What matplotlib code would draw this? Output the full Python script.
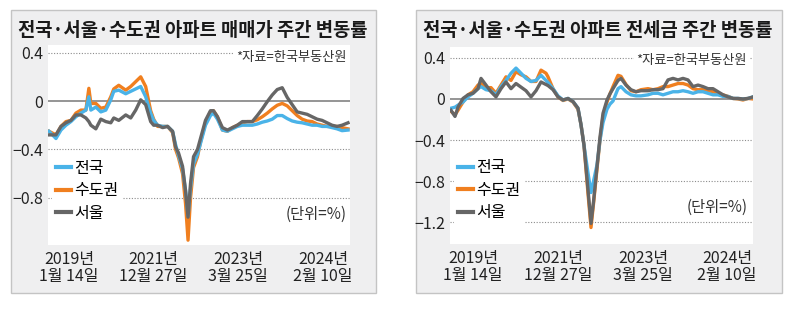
import matplotlib
matplotlib.use('Agg')
import matplotlib.pyplot as plt
from matplotlib.patches import Rectangle
from matplotlib.lines import Line2D

plt.rcParams['font.family'] = ['Liberation Sans Narrow', 'Noto Sans CJK KR', 'DejaVu Sans']

# ---- data: weekly change rates (%) ----
# 매매가 (sale price) panel
sale_x = [0, 7, 12, 17, 22, 27, 32, 37, 40, 42, 47, 52, 57, 62, 65, 70, 77, 82, 87, 92,
          97, 102, 105, 109, 114, 119, 124, 127, 130, 134, 137, 139.5, 142, 145, 149, 152, 157, 162, 165, 169,
          174, 179, 184, 189, 194, 199, 204, 209, 214, 219, 224, 229, 234, 239, 244, 249, 254, 259, 264, 269,
          274, 279, 284, 289, 294, 300]
sale_nation = [-0.25, -0.31, -0.24, -0.20, -0.17, -0.13, -0.10, -0.075, 0.035, -0.075,
               -0.05, -0.09, -0.075, 0.01, 0.08, 0.09, 0.06, 0.08, 0.10, 0.12,
               0.035, -0.10, -0.16, -0.20, -0.21, -0.21, -0.25, -0.36, -0.45, -0.56,
               -0.74, -0.95, -0.72, -0.52, -0.44, -0.35, -0.20, -0.12, -0.10, -0.15,
               -0.24, -0.25, -0.23, -0.21, -0.20, -0.20, -0.20, -0.19, -0.175, -0.165,
               -0.15, -0.12, -0.12, -0.145, -0.165, -0.175, -0.18, -0.19, -0.20, -0.20,
               -0.21, -0.21, -0.22, -0.23, -0.245, -0.24]
sale_metro = [-0.25, -0.28, -0.21, -0.17, -0.16, -0.10, -0.075, -0.075, 0.105, -0.02,
              -0.02, -0.06, -0.05, 0.035, 0.10, 0.13, 0.09, 0.12, 0.16, 0.20,
              0.12, -0.08, -0.15, -0.21, -0.21, -0.21, -0.26, -0.40, -0.47, -0.60,
              -0.85, -1.15, -0.80, -0.55, -0.46, -0.34, -0.18, -0.09, -0.08, -0.13,
              -0.24, -0.25, -0.22, -0.20, -0.18, -0.17, -0.17, -0.155, -0.13, -0.10,
              -0.065, -0.035, -0.02, -0.04, -0.08, -0.12, -0.15, -0.165, -0.17, -0.19,
              -0.20, -0.21, -0.21, -0.21, -0.22, -0.23]
sale_seoul = [-0.28, -0.28, -0.21, -0.18, -0.16, -0.115, -0.115, -0.14, -0.17, -0.20,
              -0.23, -0.15, -0.17, -0.18, -0.14, -0.16, -0.115, -0.14, -0.075, 0.01,
              -0.03, -0.17, -0.20, -0.20, -0.22, -0.21, -0.25, -0.38, -0.43, -0.54,
              -0.74, -0.96, -0.68, -0.46, -0.40, -0.31, -0.16, -0.08, -0.08, -0.13,
              -0.22, -0.24, -0.22, -0.20, -0.17, -0.17, -0.17, -0.12, -0.065, -0.005,
              0.05, 0.095, 0.11, 0.03, -0.03, -0.09, -0.10, -0.11, -0.13, -0.15,
              -0.16, -0.18, -0.20, -0.21, -0.20, -0.18]

# 전세금 (jeonse) panel
rent_x = [0, 4, 7, 12, 17, 22, 27, 30, 35, 40, 45, 50, 55, 60, 65, 70, 75, 80, 85, 90,
          95, 97, 102, 107, 112, 117, 122, 127, 130, 133, 137, 140, 142.5, 146, 149, 152, 156, 159, 162, 167,
          170, 175, 180, 185, 190, 197, 202, 207, 212, 217, 222, 227, 232, 237, 242, 247, 252, 257, 262, 267,
          272, 277, 282, 287, 292, 297, 302]
rent_nation = [-0.09, -0.08, -0.06, -0.03, 0.02, 0.055, 0.10, 0.12, 0.09, 0.08,
               0.04, 0.12, 0.18, 0.25, 0.30, 0.25, 0.20, 0.17, 0.18, 0.23,
               0.18, 0.16, 0.10, 0.03, -0.01, 0.005, -0.025, -0.09, -0.25, -0.45,
               -0.72, -0.91, -0.80, -0.64, -0.40, -0.23, -0.10, -0.05, -0.02, 0.10,
               0.12, 0.07, 0.04, 0.03, 0.03, 0.04, 0.055, 0.055, 0.04, 0.055,
               0.07, 0.07, 0.08, 0.07, 0.055, 0.07, 0.07, 0.055, 0.04, 0.04,
               0.025, 0.025, 0.005, 0.005, 0.0, 0.005, 0.02]
rent_metro = [-0.12, -0.155, -0.11, -0.03, 0.04, 0.07, 0.135, 0.15, 0.11, 0.11,
              0.055, 0.135, 0.215, 0.18, 0.265, 0.235, 0.215, 0.17, 0.17, 0.28,
              0.25, 0.215, 0.10, 0.02, -0.015, 0.0, -0.03, -0.10, -0.25, -0.45,
              -0.92, -1.25, -1.02, -0.68, -0.40, -0.17, -0.03, 0.05, 0.12, 0.23,
              0.22, 0.14, 0.08, 0.07, 0.09, 0.10, 0.09, 0.10, 0.12, 0.12,
              0.135, 0.15, 0.15, 0.135, 0.10, 0.09, 0.09, 0.08, 0.07, 0.055,
              0.04, 0.025, 0.005, 0.0, -0.01, 0.005, 0.0]
rent_seoul = [-0.11, -0.17, -0.08, 0.005, 0.04, 0.055, 0.10, 0.20, 0.135, 0.07,
              0.02, 0.10, 0.165, 0.10, 0.15, 0.115, 0.08, 0.02, 0.08, 0.165,
              0.14, 0.13, 0.09, 0.02, -0.01, 0.005, -0.025, -0.09, -0.25, -0.45,
              -0.88, -1.21, -1.00, -0.66, -0.37, -0.14, -0.01, 0.05, 0.10, 0.18,
              0.20, 0.135, 0.09, 0.07, 0.08, 0.08, 0.09, 0.09, 0.10, 0.185,
              0.20, 0.185, 0.20, 0.185, 0.12, 0.135, 0.12, 0.10, 0.10, 0.07,
              0.04, 0.02, 0.005, 0.005, 0.0, 0.005, 0.02]

sale_yticks = [0.4, 0.0, -0.4, -0.8]
rent_yticks = [0.4, 0.0, -0.4, -0.8, -1.2]
date_labels = ['2019년\n1월 14일', '2021년\n12월 27일', '2023년\n3월 25일', '2024년\n2월 10일']
names = ['전국', '수도권', '서울']
colors = ['#4ab3e8', '#f07f1f', '#666666']

W, H = 791, 324
fig = plt.figure(figsize=(W / 100, H / 100), dpi=100)


def fx(px):
    return px / W


def fy(py):
    return 1 - py / H


# grey framed boxes behind each panel
for x0, x1 in [(11, 376), (416, 782)]:
    fig.patches.append(Rectangle((fx(x0), fy(293)), fx(x1) - fx(x0), fy(10) - fy(293),
                                 transform=fig.transFigure, facecolor='#efeff0',
                                 edgecolor='#c4c4c4', lw=1, zorder=-10))


def tick_text(t):
    if abs(t) < 1e-9:
        return '0'
    return ('\u2212' if t < 0 else '') + f'{abs(t):.1f}'


def panel(rect, x, nation, metro, seoul, ylim, yticks, xticks, title, title_x,
          src_pos, unit_pos, leg_top):
    ax = fig.add_axes(rect)
    ax.set_zorder(1)
    ax.set_facecolor('white')
    for s in ax.spines.values():
        s.set_visible(False)
    for t in yticks:
        if abs(t) < 1e-9:
            ax.axhline(0, color='#8c8c8c', lw=1.3, zorder=1)
        else:
            ax.axhline(t, color='#8c8c8c', lw=0.8, ls=(0, (1, 1.5)), zorder=1)
    # draw order: orange, blue, grey
    ax.plot(x, metro, color=colors[1], lw=2.4, zorder=3, solid_joinstyle='round')
    ax.plot(x, nation, color=colors[0], lw=2.4, zorder=3, solid_joinstyle='round')
    ax.plot(x, seoul, color=colors[2], lw=2.4, zorder=4, solid_joinstyle='round')
    ax.set_ylim(*ylim)
    ax.set_xlim(x[0] - 1, 302)
    ax.set_yticks(yticks)
    ax.set_yticklabels([tick_text(t) for t in yticks])
    ax.set_xticks(xticks)
    ax.set_xticklabels(date_labels, linespacing=1.05)
    ax.tick_params(length=0, labelsize=11.5, colors='#222222')
    ax.tick_params(axis='y', pad=3.5)
    ax.tick_params(axis='x', pad=4)

    handles = [Line2D([], [], color=c, lw=3) for c in colors]
    leg = ax.legend(handles, names, loc='upper left', bbox_to_anchor=(0.012, leg_top),
                    frameon=True, facecolor='white', edgecolor='none', framealpha=1,
                    handlelength=0.9, handletextpad=0.2,
                    labelspacing=0.35, borderpad=0.3, borderaxespad=0,
                    prop={'family': ['Noto Sans CJK KR'], 'size': 11.5})
    leg.set_zorder(5)

    ax.text(src_pos[0], src_pos[1], '*자료=한국부동산원', transform=ax.transAxes,
            ha='right', va='center', fontsize=9.5, color='#333333',
            family=['Noto Sans CJK KR', 'DejaVu Sans'],
            bbox=dict(facecolor='white', edgecolor='none', pad=2), zorder=6)
    ax.text(unit_pos[0], unit_pos[1], '(단위=%)', transform=ax.transAxes,
            ha='right', va='center', fontsize=11, color='#333333',
            family=['Noto Sans CJK KR', 'DejaVu Sans'], zorder=6)
    fig.text(fx(title_x), fy(30), title, ha='center', va='center', fontsize=13.5,
             fontweight='bold', color='#1a1a1a', family=['Noto Sans CJK KR', 'DejaVu Sans'])
    return ax


panel([fx(48), fy(245), fx(350) - fx(48), fy(45) - fy(245)],
      sale_x, sale_nation, sale_metro, sale_seoul,
      (-1.19, 0.463), sale_yticks, [20, 105, 190, 275],
      '전국·서울·수도권 아파트 매매가 주간 변동률', 193,
      (0.99, 0.935), (0.99, 0.155), 0.45)

panel([fx(450), fy(244), fx(753) - fx(450), fy(47) - fy(244)],
      rent_x, rent_nation, rent_metro, rent_seoul,
      (-1.41, 0.505), rent_yticks, [22, 107, 192, 276],
      '전국·서울·수도권 아파트 전세금 주간 변동률', 598,
      (0.98, 0.934), (0.983, 0.188), 0.455)

fig.savefig('out.png', dpi=100)
